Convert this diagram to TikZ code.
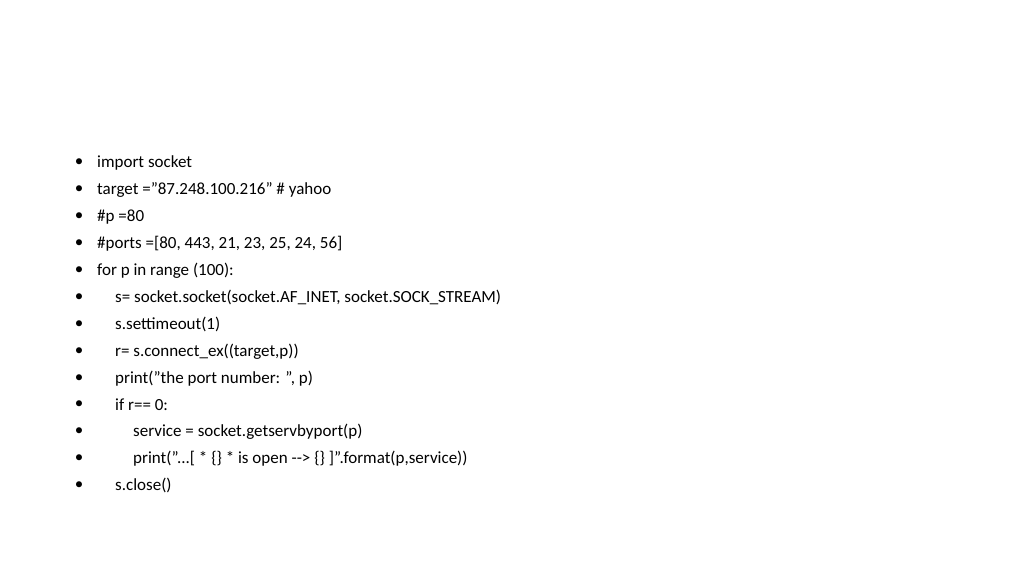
\documentclass[tikz,border=0pt]{standalone}
\usepackage{fontspec}
\setmainfont{Carlito}
\tikzset{codeline/.style={anchor=west,inner sep=0pt,font=\fontsize{17}{20}\selectfont},
  dot/.style={anchor=center,inner sep=0pt,font=\fontsize{17}{20}\selectfont}}
\begin{document}
\begin{tikzpicture}[x=1pt,y=1pt]
  \useasboundingbox (0,0) rectangle (1024,576);
  % bullets
  \foreach \i in {0,...,12}
    \node [dot] (b\i) at (79,413-26.9*\i) {\textbullet};
  % code lines
  \node [codeline] (l0) at (97,413) {import socket};
  \node [codeline] (l1) at (97,413-26.9) {target ="87.248.100.216" \# yahoo};
  \node [codeline] (l2) at (97,413-2*26.9) {\#p =80};
  \node [codeline] (l3) at (97,413-3*26.9) {\#ports =[80, 443, 21, 23, 25, 24, 56]};
  \node [codeline] (l4) at (97,413-4*26.9) {for p in range (100):};
  \node [codeline] (l5) at (115,413-5*26.9) {s= socket.socket(socket.AF\_INET, socket.SOCK\_STREAM)};
  \node [codeline] (l6) at (115,413-6*26.9) {s.settimeout(1)};
  \node [codeline] (l7) at (115,413-7*26.9) {r= s.connect\_ex((target,p))};
  \node [codeline] (l8) at (115,413-8*26.9) {print("the port number: ", p)};
  \node [codeline] (l9) at (115,413-9*26.9) {if r== 0:};
  \node [codeline] (l10) at (133,413-10*26.9) {service = socket.getservbyport(p)};
  \node [codeline] (l11) at (133,413-11*26.9) {print("...[ * \{\} * is open -{}-> \{\} ]".format(p,service))};
  \node [codeline] (l12) at (115,413-12*26.9) {s.close()};
\end{tikzpicture}
\end{document}
